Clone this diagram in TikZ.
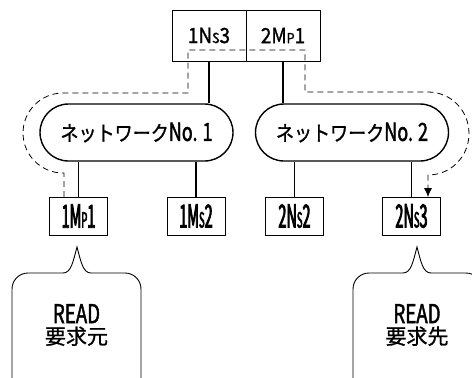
\documentclass[tikz,border=0pt]{standalone}
\usepackage{graphicx}
\usepackage{fontspec}
\setmainfont[FakeBold=1]{Noto Sans CJK JP}
\newfontfamily\narrowfont[FakeStretch=0.45,FakeBold=2.4]{Noto Sans CJK JP}
\newfontfamily\topfont[FakeStretch=0.9,FakeBold=1.3]{Noto Sans CJK JP}
\newfontfamily\kanafont[FakeStretch=0.86,FakeBold=1.1]{Noto Sans CJK JP}
\newfontfamily\readfont[FakeStretch=0.72,FakeBold=1.6]{Noto Sans CJK JP}
\usetikzlibrary{arrows.meta,positioning,shapes.misc}
\newcommand{\sm}[1]{\scalebox{0.66}{#1}}

\begin{document}
\begin{tikzpicture}[x=1pt,y=-1pt,
  box/.style={draw, line width=0.9pt, outer sep=0pt, inner sep=0pt, minimum width=74pt, minimum height=51pt, font=\topfont\fontsize{21}{21}\selectfont},
  unit/.style={draw, line width=0.9pt, outer sep=0pt, inner sep=0pt, minimum width=58pt, minimum height=38pt, font=\narrowfont\fontsize{32}{32}\selectfont},
  net/.style={draw, rounded rectangle, line width=1.4pt, inner sep=0pt, minimum width=193pt, minimum height=57pt, font=\kanafont\fontsize{21}{21}\selectfont},
  link/.style={line width=1.6pt},
  route/.style={dash pattern=on 6pt off 4pt, line width=0.8pt},
  bubble/.style={line width=0.9pt},
  note/.style={align=center, inner sep=0pt, font=\fontsize{21}{21}\selectfont}
]
\useasboundingbox (0,0) rectangle (472,378);
\node[box] (n1s3) at (209,35.5) {\raisebox{-2pt}{1N\sm{S}3}};
\node[box, right=0pt of n1s3] (m2p1) {\raisebox{-2pt}{2M\sm{P}1}};
\node[net] (net1) at (136.5,132.5) {ネットワーク{\readfont\fontsize{25}{25}\selectfont No.\hspace{5pt}1}};
\node[net] (net2) at (352,132.5) {ネットワーク{\readfont\fontsize{25}{25}\selectfont No.\hspace{5pt}2}};
\node[unit] (m1p1) at (78.5,216) {1M\sm{P}1};
\node[unit] (m1s2) at (196,216) {1M\sm{S}2};
\node[unit] (n2s2) at (294.5,216) {2N\sm{S}2};
\node[unit] (n2s3) at (411.5,216) {2N\sm{S}3};
\draw[link] (n1s3.south) -- (n1s3 |- net1.north);
\draw[link] (m2p1.south) -- (m2p1 |- net2.north);
\foreach \u/\n in {m1p1/net1, m1s2/net1, n2s2/net2, n2s3/net2}
  \draw[link] (\u.north) -- (\u |- \n.south);
% READ route
\draw[route, -{Latex[length=9pt,width=8pt]}] ([xshift=-14.5pt]m1p1.north) -- ++(0,-24) -- ++(-1,0)
  .. controls (41,173) and (23,155) .. (23,133) .. controls (23,111) and (41,93) .. (63,93)
  -- (188,93) -- (188,50) -- (305,50) -- (305,92) -- (428,92)
  .. controls (451,92) and (469,110.6) .. (469,133.5) .. controls (469,156.4) and (451,175) .. (428,175)
  -- ([xshift=16.5pt]n2s3.north);
% balloons
\node[note] (src) at (76.5,325) {{\readfont\fontsize{26}{21}\selectfont READ}\\要求元};
\node[note] (dst) at (417,325) {{\readfont\fontsize{26}{21}\selectfont READ}\\要求先};
\draw[bubble, rounded corners=16pt] (63,273) -- (12,273) -- (12,392) (91,273) -- (141,273) -- (141,392);
\draw[bubble] (63,273) .. controls (71,273) and (73,262) .. (77,247) .. controls (81,262) and (83,273) .. (91,273);
\draw[bubble, rounded corners=16pt] (403,273) -- (353,273) -- (353,392) (431,273) -- (482,273) -- (482,392);
\draw[bubble] (403,273) .. controls (411,273) and (413,262) .. (417,247) .. controls (421,262) and (423,273) .. (431,273);
\end{tikzpicture}
\end{document}
